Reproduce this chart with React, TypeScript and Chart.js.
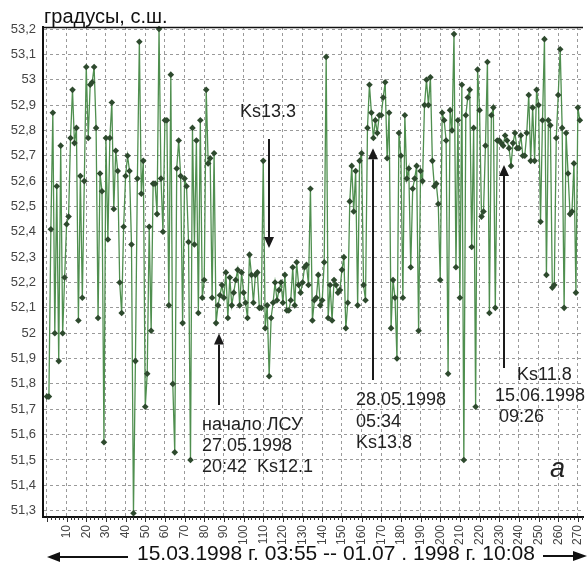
import React, { useEffect, useRef } from 'react';
import { Chart, registerables } from 'chart.js';

Chart.register(...registerables);

// Latitude of the epicentre series (degrees N), one value per event index
const latitude: number[] = [
  51.75, 51.75, 52.41, 52.87, 52.00, 52.58, 51.89, 52.74, 52.00, 52.22, 52.43, 52.46,
  52.77, 52.96, 52.75, 52.81, 52.05, 52.62, 52.14, 52.60, 53.05, 52.77,
  52.98, 52.99, 53.05, 52.81, 52.06, 52.63, 52.56, 51.57, 52.77, 52.37,
  52.77, 52.91, 52.49, 52.72, 52.64, 52.20, 52.08, 52.42, 52.62, 52.70,
  52.64, 52.35, 51.29, 51.89, 52.61, 53.15, 52.55, 52.68, 51.71, 51.84,
  52.42, 52.01, 52.59, 52.59, 52.47, 53.20, 52.61, 52.40, 52.84, 52.84,
  52.11, 53.02, 51.80, 51.53, 52.65, 52.76, 52.62, 52.04, 52.61, 52.58,
  52.36, 51.50, 52.81, 52.35, 52.76, 52.08, 52.84, 52.14, 52.21, 52.96,
  52.67, 52.69, 52.14, 52.71, 52.04, 52.11, 52.15, 52.19, 52.14, 52.24,
  52.06, 52.22, 52.11,
  52.16, 52.21, 52.25, 52.11, 52.24, 52.16, 52.12, 52.06, 52.31, 52.23,
  52.12, 52.23, 52.24, 52.10, 52.10, 52.68, 52.02, 52.11, 51.83, 52.06,
  52.12, 52.20, 52.13, 52.17, 52.20, 52.12, 52.23, 52.09, 52.09, 52.13,
  52.26, 52.11, 52.28, 52.19, 52.16, 52.20, 52.26, 52.27, 52.19, 52.57,
  52.05, 52.13, 52.14, 52.23, 52.11, 52.13, 52.28, 53.09, 52.06, 52.19,
  52.05, 52.21, 52.19, 52.16, 52.17, 52.25, 52.30, 52.02, 52.12, 52.52,
  52.66, 52.48, 52.64, 52.11, 52.68, 52.71, 52.19, 52.13, 52.81, 52.98,
  52.87, 52.77, 52.84, 52.79, 52.86, 52.86, 52.93, 52.99, 52.69, 52.87,
  52.02, 52.21, 52.14, 51.90, 52.79, 52.70, 52.14,
  52.86, 52.61, 52.65, 52.26, 52.57, 52.61, 52.66, 52.01, 52.64, 52.60,
  52.90, 53.00, 52.90, 53.01, 52.68, 52.58, 52.59, 52.51, 52.21, 52.87,
  52.84, 52.76, 51.84, 52.88, 52.80, 53.18, 52.26, 52.84, 52.14, 52.98,
  51.50, 52.86, 52.93, 52.96, 52.34, 52.81, 51.71, 53.04, 52.88, 52.46,
  52.48, 52.74, 53.07, 52.08, 52.86, 52.89, 52.10, 52.76, 52.76, 52.75,
  52.74, 52.78, 52.76, 52.73, 52.66, 52.75, 52.79, 52.73, 52.73, 52.78,
  52.70, 52.70, 52.79, 52.94, 52.68, 52.89, 52.68, 52.96, 52.90, 52.44,
  52.84, 53.16, 52.23, 52.84, 52.82, 52.18, 52.19, 52.77, 52.94, 53.12,
  52.81, 52.10, 52.79, 52.63, 52.47, 52.48, 52.67, 52.16, 52.89, 52.84,
];

const xTickValues: number[] = [0, 10, 20, 30, 40, 50, 60, 70, 80, 90, 100, 110, 120, 130, 140,
  150, 160, 170, 180, 190, 200, 210, 220, 230, 240, 250, 260, 270];
const yTickValues: number[] = [51.3, 51.4, 51.5, 51.6, 51.7, 51.8, 51.9, 52.0, 52.1, 52.2,
  52.3, 52.4, 52.5, 52.6, 52.7, 52.8, 52.9, 53.0, 53.1, 53.2];

const yAxisTitle = 'градусы, с.ш.';
const periodCaption = '15.03.1998 г. 03:55 -- 01.07 . 1998 г. 10:08';
const panelLetter = 'a';

// Arrows in data units: x index, from-value -> to-value (head at "to")
const arrowX: number[] = [113.1, 87.3, 165.6, 232.5];
const arrowFrom: number[] = [52.766, 51.717, 51.815, 51.863];
const arrowTo: number[] = [52.336, 51.999, 52.73, 52.664];

// Text notes (left x, baseline y in pixels)
const noteTexts: string[] = ['Ks13.3', 'начало ЛСУ', '27.05.1998', '20:42  Ks12.1',
  '28.05.1998', '05:34', 'Ks13.8', 'Ks11.8', '15.06.1998', '09:26'];
const noteX: number[] = [240, 202, 202, 202, 356, 356, 356, 517, 495, 499];
const noteY: number[] = [117, 430, 451, 472, 405, 427, 448, 380, 401, 422];

const overlay = {
  id: 'overlay',
  afterDraw(chart: any) {
    const ctx = chart.ctx as CanvasRenderingContext2D;
    const { chartArea } = chart;
    const xs = chart.scales.x;
    const ys = chart.scales.y;
    ctx.save();
    // top border
    ctx.strokeStyle = '#111';
    ctx.lineWidth = 1.5;
    ctx.beginPath();
    ctx.moveTo(chartArea.left, chartArea.top + 0.5);
    ctx.lineTo(chartArea.right, chartArea.top + 0.5);
    ctx.stroke();
    // minor ticks along x axis
    ctx.lineWidth = 1;
    ctx.strokeStyle = '#333';
    for (let v = 0; v <= 272; v += 2) {
      const px = Math.round(xs.getPixelForValue(v)) + 0.5;
      ctx.beginPath();
      ctx.moveTo(px, chartArea.bottom);
      ctx.lineTo(px, chartArea.bottom + (v % 10 === 0 ? 5 : 3));
      ctx.stroke();
    }
    // title
    ctx.fillStyle = '#111';
    ctx.font = '20px Arial, "Liberation Sans", sans-serif';
    ctx.textAlign = 'left';
    ctx.textBaseline = 'alphabetic';
    ctx.fillText(yAxisTitle, 44, 23);

    // arrows
    ctx.strokeStyle = '#1a1a1a';
    ctx.fillStyle = '#1a1a1a';
    ctx.lineWidth = 2;
    for (let i = 0; i < arrowX.length; i++) {
      const px = Math.round(xs.getPixelForValue(arrowX[i]));
      const y1 = ys.getPixelForValue(arrowFrom[i]);
      const y2 = ys.getPixelForValue(arrowTo[i]);
      const dir = y2 > y1 ? 1 : -1;
      const headLen = 11;
      ctx.beginPath();
      ctx.moveTo(px, y1);
      ctx.lineTo(px, y2 - dir * headLen);
      ctx.stroke();
      ctx.beginPath();
      ctx.moveTo(px, y2);
      ctx.lineTo(px - 5, y2 - dir * headLen);
      ctx.lineTo(px + 5, y2 - dir * headLen);
      ctx.closePath();
      ctx.fill();
    }
    // notes
    ctx.fillStyle = '#222';
    ctx.font = '18px Arial, "Liberation Sans", sans-serif';
    for (let i = 0; i < noteTexts.length; i++) {
      ctx.fillText(noteTexts[i], noteX[i], noteY[i]);
    }
    // panel letter
    ctx.font = 'italic 27px Arial, "Liberation Sans", sans-serif';
    ctx.fillText(panelLetter, 550, 477);

    // bottom caption with arrows
    ctx.font = '21px Arial, "Liberation Sans", sans-serif';
    ctx.fillStyle = '#111';
    ctx.fillText(periodCaption, 137, 560);
    ctx.strokeStyle = '#111';
    ctx.lineWidth = 2;
    ctx.beginPath();
    ctx.moveTo(58, 557);
    ctx.lineTo(128, 557);
    ctx.stroke();
    ctx.beginPath();
    ctx.moveTo(47, 557);
    ctx.lineTo(60, 552);
    ctx.lineTo(60, 562);
    ctx.closePath();
    ctx.fill();
    ctx.beginPath();
    ctx.moveTo(543, 556);
    ctx.lineTo(575, 556);
    ctx.stroke();
    ctx.beginPath();
    ctx.moveTo(587, 556);
    ctx.lineTo(573, 551);
    ctx.lineTo(573, 561);
    ctx.closePath();
    ctx.fill();
    ctx.restore();
  },
};

export default function App() {
  const ref = useRef<HTMLCanvasElement | null>(null);
  useEffect(() => {
    if (!ref.current) return;
    const chart = new Chart(ref.current, {
      type: 'line',
      data: {
        datasets: [
          {
            data: latitude.map((v, i) => ({ x: i, y: v })),
            borderColor: '#4f8f4f',
            borderWidth: 1.3,
            pointStyle: 'rectRot',
            pointRadius: 3.3,
            pointBackgroundColor: '#2e4a2e',
            pointBorderColor: '#2e4a2e',
            pointBorderWidth: 0,
            tension: 0,
            clip: false as any,
          },
        ],
      },
      options: {
        responsive: false,
        animation: false,
        devicePixelRatio: 1,
        layout: { padding: { top: 27, right: 0, left: 0, bottom: 0 } },
        plugins: { legend: { display: false }, tooltip: { enabled: false } },
        scales: {
          x: {
            type: 'linear',
            min: -2,
            max: 272.6,
            afterBuildTicks: (scale: any) => {
              scale.ticks = xTickValues.map((v) => ({ value: v }));
            },
            afterFit: (scale: any) => {
              scale.height = 45;
              scale.paddingLeft = 0;
              scale.paddingRight = 0;
            },
            grid: { color: '#9a9a9a', lineWidth: 1, drawTicks: false },
            border: { display: true, color: '#111', width: 2, dash: [3, 3] },
            ticks: {
              autoSkip: false,
              maxRotation: 90,
              minRotation: 90,
              padding: 8,
              color: '#444',
              font: { family: '"Liberation Sans Narrow", Arial, sans-serif', size: 12 },
              callback: (v: any) => (v === 0 ? '' : String(v)),
            },
          },
          y: {
            type: 'linear',
            min: 51.275,
            max: 53.208,
            afterBuildTicks: (scale: any) => {
              scale.ticks = yTickValues.map((v) => ({ value: v }));
            },
            afterFit: (scale: any) => {
              scale.width = 43;
              scale.paddingTop = 0;
              scale.paddingBottom = 0;
            },
            grid: { color: '#9a9a9a', lineWidth: 1, drawTicks: false },
            border: { display: true, color: '#111', width: 2, dash: [3, 3] },
            ticks: {
              padding: 7,
              color: '#444',
              font: { family: 'Arial, "Liberation Sans", sans-serif', size: 13 },
              callback: (v: any) => String(Math.round(Number(v) * 10) / 10).replace('.', ','),
            },
          },
        },
      },
      plugins: [overlay],
    });
    return () => chart.destroy();
  }, []);
  return (
    <div style={{ position: 'fixed', left: 0, top: 0, width: 587, height: 562, background: '#fff' }}>
      <canvas ref={ref} width={587} height={562} style={{ display: 'block' }} />
    </div>
  );
}
